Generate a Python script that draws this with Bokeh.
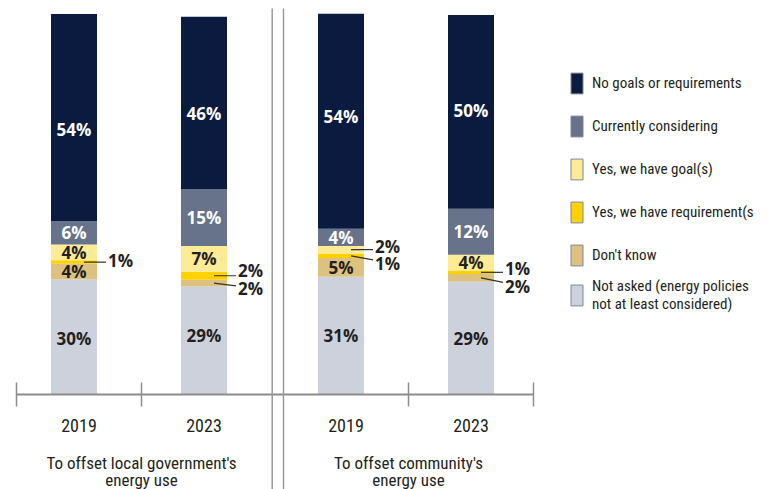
from bokeh.plotting import figure
from bokeh.models import Range1d, Legend, LegendItem
from bokeh.core.properties import value
from bokeh.embed import file_html
from bokeh.resources import INLINE

# ---------------- data ----------------
groups = ["To offset local government's\nenergy use", "To offset community's\nenergy use"]
years = ["2019", "2023"]
series = [
    "No goals or requirements",
    "Currently considering",
    "Yes, we have goal(s)",
    "Yes, we have requirement(s",
    "Don't know",
    "Not asked (energy policies\nnot at least considered)",
]
# bars: (local gov 2019), (local gov 2023), (community 2019), (community 2023)
no_goals = [54.5, 45.3, 56.6, 51.0]
considering = [6.1, 15.0, 4.5, 12.1]
goals = [4.2, 6.8, 2.0, 4.2]
requirement = [0.9, 2.1, 1.2, 0.9]
dont_know = [4.1, 1.8, 4.9, 2.0]
not_asked = [30.3, 28.4, 31.0, 29.7]

labels_no_goals = ["54%", "46%", "54%", "50%"]
labels_considering = ["6%", "15%", "4%", "12%"]
labels_goals = ["4%", "7%", "2%", "4%"]
labels_requirement = ["1%", "2%", "1%", "1%"]
labels_dont_know = ["4%", "2%", "5%", "2%"]
labels_not_asked = ["30%", "29%", "31%", "29%"]

# ---------------- style / layout ----------------
W, H = 771, 489
PX = 3.8          # pixels per percentage point
BASE = 394        # pixel row of the baseline
U = 125.0         # pixels per category unit
X0 = 16           # pixel column of x = 0
G = 2.136         # group step in category units
BW = 46 / U
BAR_OFF = [0.46, 0.5]   # bar offset inside its category slot

colors = ["#cdd1dc", "#dcc27e", "#ffd100", "#fdeb96", "#67738b", "#0b1b3f"]
text_colors = ["#231f20", "#231f20", "#231f20", "#231f20", "white", "white"]
AX = "#8c8c8c"
TXT = "#231f20"
COND = "Roboto Condensed"
LABEL_FONT = "Open Sans"

def dy(px):
    return -px / PX

def dx(px):
    return px / U

stack_vals = [not_asked, dont_know, requirement, goals, considering, no_goals]
stack_labels = [labels_not_asked, labels_dont_know, labels_requirement,
                labels_goals, labels_considering, labels_no_goals]
stack_names = list(reversed(series))

# callouts: (bar, stack index) -> vertical nudge of label in px
callouts = {(0, 2): -2, (1, 2): -5, (1, 1): 5.5, (2, 3): -3, (2, 2): 8,
            (3, 2): -3.7, (3, 1): 9}
inside_nudge = {(0, 5): 12, (1, 5): 11, (2, 5): -5, (3, 5): -1, (1, 0): -5, (0, 0): 2}

cat_x = [g * G + y + 0.5 for g in range(len(groups)) for y in range(len(years))]
xc = [g * G + y + BAR_OFF[y] for g in range(len(groups)) for y in range(len(years))]

p = figure(width=W, height=H, output_backend="svg", toolbar_location=None,
           x_range=Range1d(-X0 / U, (W - X0) / U),
           y_range=Range1d(-(H - BASE) / PX, BASE / PX),
           x_axis_type=None, y_axis_type=None, min_border=0,
           outline_line_color=None, background_fill_color="white",
           border_fill_color="white")
p.grid.visible = False

bottoms = [0.0] * len(xc)
in_x, in_y, in_t, in_c = [], [], [], []
co_x, co_y, co_t = [], [], []
ld_x0, ld_y0, ld_x1, ld_y1 = [], [], [], []
for k, vals in enumerate(stack_vals):
    tops = [b + v for b, v in zip(bottoms, vals)]
    p.vbar(x=xc, bottom=bottoms, top=tops, width=BW,
           fill_color=colors[k], line_color=None)
    for i in range(len(xc)):
        mid = (bottoms[i] + tops[i]) / 2
        if (i, k) in callouts:
            n = callouts[(i, k)]
            tx = xc[i] + dx(34)
            ty = mid + dy(n)
            co_x.append(tx); co_y.append(ty); co_t.append(stack_labels[k][i])
            ld_x0.append(xc[i] + dx(10)); ld_y0.append(mid)
            ld_x1.append(tx - dx(2)); ld_y1.append(mid + dy(0.5 * max(0, n)))
        else:
            in_x.append(xc[i]); in_y.append(mid + dy(inside_nudge.get((i, k), 0)))
            in_t.append(stack_labels[k][i]); in_c.append(text_colors[k])
    bottoms = tops

p.text(x=in_x, y=in_y, text=in_t, text_color=in_c, text_align="center",
       text_baseline="middle", text_font=value(LABEL_FONT), text_font_size="17px",
       text_font_style="bold")
p.segment(x0=ld_x0, y0=ld_y0, x1=ld_x1, y1=ld_y1, line_color="#333333", line_width=1.2)
p.text(x=co_x, y=co_y, text=co_t, text_color=TXT, text_align="left",
       text_baseline="middle", text_font=value(LABEL_FONT), text_font_size="17px",
       text_font_style="bold")

# axis line, ticks, separators
x_end = G * (len(groups) - 1) + 2
p.segment(x0=[0], y0=[0], x1=[x_end], y1=[0], line_color=AX, line_width=2)
tick_x = []
for g in range(len(groups)):
    if g == 0:
        tick_x += [0, 1]
    else:
        tick_x += [g * G + 1, g * G + 2]
p.segment(x0=tick_x, y0=[dy(-12)] * len(tick_x), x1=tick_x, y1=[dy(12)] * len(tick_x),
          line_color=AX, line_width=1.5)
sep_x = [2 + dx(5.7), G]
p.segment(x0=sep_x, y0=[dy(-386)] * 2, x1=sep_x, y1=[dy(H - BASE + 5)] * 2,
          line_color="#9a9a9a", line_width=1.5)

# category labels
p.text(x=cat_x, y=[dy(31)] * len(cat_x), text=[years[i % 2] for i in range(len(cat_x))],
       text_align="center", text_baseline="alphabetic", text_color=TXT,
       text_font=value(COND), text_font_size="18px")
gx, gy, gt = [], [], []
for g, name in enumerate(groups):
    for j, line in enumerate(name.split("\n")):
        gx.append(g * G + 1); gy.append(dy(68 + 17 * j)); gt.append(line)
p.text(x=gx, y=gy, text=gt, text_align="center", text_baseline="alphabetic",
       text_color=TXT, text_font=value(COND), text_font_size="17px")

# legend (swatch renderers have zero size so they draw nothing in the plot)
items = []
for k in reversed(range(len(stack_vals))):
    r = p.vbar(x=[xc[0]], bottom=[0], top=[0], width=0, fill_color=colors[k],
               line_color="#7d879a")
    items.append(LegendItem(label=stack_names[k], renderers=[r]))

def make_legend(its, loc, lh):
    return Legend(items=its, location=loc, glyph_width=15, glyph_height=26,
                  label_height=26, label_standoff=8, spacing=17, padding=0, margin=0,
                  border_line_color=None, background_fill_alpha=0,
                  label_text_font=COND, label_text_font_size="15px",
                  label_text_line_height=lh, label_text_color=TXT)

p.add_layout(make_legend(items[:5], (569, 221), 1.2))
p.add_layout(make_legend(items[5:], (569, 176), 1.25))

open("out.html", "w").write(file_html(p, INLINE))
